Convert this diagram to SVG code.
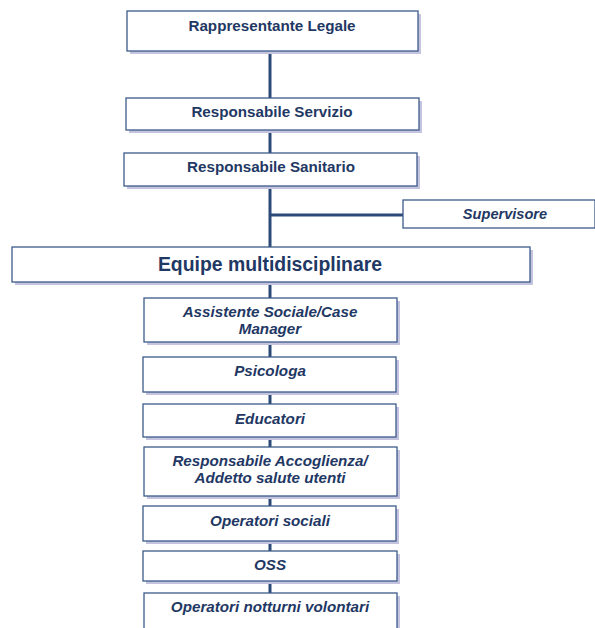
<svg xmlns="http://www.w3.org/2000/svg" width="595" height="628" viewBox="0 0 595 628">
<defs>
<style>
.box{fill:#fff;stroke:#3C5A8A;stroke-width:1.3}
.sh{fill:#C4C4DE}
.t{font-family:"Liberation Sans",Arial,sans-serif;font-weight:bold;fill:#1F3864;text-anchor:middle;font-size:15.2px}
.i{font-style:italic}
.c{stroke:#2C4A78;stroke-width:3;fill:none}
</style>
</defs>
<rect width="595" height="628" fill="#fff"/>
<g id="connectors">
<line class="c" x1="270" y1="51" x2="270" y2="98"/>
<line class="c" x1="270" y1="130" x2="270" y2="153"/>
<line class="c" x1="270" y1="186" x2="270" y2="247"/>
<line class="c" x1="270" y1="215" x2="403" y2="215"/>
<line class="c" x1="270" y1="282" x2="270" y2="298"/>
<line class="c" x1="270" y1="342" x2="270" y2="357"/>
<line class="c" x1="270" y1="392" x2="270" y2="404"/>
<line class="c" x1="270" y1="437" x2="270" y2="447"/>
<line class="c" x1="270" y1="496" x2="270" y2="506"/>
<line class="c" x1="270" y1="541" x2="270" y2="551"/>
<line class="c" x1="270" y1="581" x2="270" y2="593"/>
</g>
<g id="n1"><rect class="sh" x="130" y="14" width="291" height="40"/><rect class="box" x="127" y="11" width="291" height="40"/><text class="t" x="272" y="31">Rappresentante Legale</text></g>
<g id="n2"><rect class="sh" x="129" y="101" width="293" height="32"/><rect class="box" x="126" y="98" width="293" height="32"/><text class="t" x="272" y="117">Responsabile Servizio</text></g>
<g id="n3"><rect class="sh" x="127" y="156" width="293" height="33"/><rect class="box" x="124" y="153" width="293" height="33"/><text class="t" x="271" y="172">Responsabile Sanitario</text></g>
<g id="n4"><rect class="box" x="403" y="200" width="192" height="28"/><text class="t i" x="505" y="219" style="font-size:14.6px">Supervisore</text></g>
<g id="n5"><rect class="sh" x="15" y="250" width="518" height="35"/><rect class="box" x="12" y="247" width="518" height="35"/><text class="t" x="270" y="271" style="font-size:19.4px">Equipe multidisciplinare</text></g>
<g id="n6"><rect class="sh" x="147" y="301" width="253" height="44"/><rect class="box" x="144" y="298" width="253" height="44"/><text class="t i" x="270" y="317">Assistente Sociale/Case</text><text class="t i" x="270" y="334">Manager</text></g>
<g id="n7"><rect class="sh" x="146" y="360" width="253" height="35"/><rect class="box" x="143" y="357" width="253" height="35"/><text class="t i" x="270" y="376">Psicologa</text></g>
<g id="n8"><rect class="sh" x="146" y="407" width="253" height="33"/><rect class="box" x="143" y="404" width="253" height="33"/><text class="t i" x="270" y="424">Educatori</text></g>
<g id="n9"><rect class="sh" x="147" y="450" width="253" height="49"/><rect class="box" x="144" y="447" width="253" height="49"/><text class="t i" x="270" y="466">Responsabile Accoglienza/</text><text class="t i" x="270" y="483">Addetto salute utenti</text></g>
<g id="n10"><rect class="sh" x="146" y="509" width="253" height="35"/><rect class="box" x="143" y="506" width="253" height="35"/><text class="t i" x="270" y="526">Operatori sociali</text></g>
<g id="n11"><rect class="sh" x="146" y="554" width="254" height="30"/><rect class="box" x="143" y="551" width="254" height="30"/><text class="t i" x="270" y="570">OSS</text></g>
<g id="n12"><rect class="sh" x="147" y="596" width="253" height="40"/><rect class="box" x="144" y="593" width="253" height="40"/><text class="t i" x="270" y="612">Operatori notturni volontari</text></g>
</svg>
